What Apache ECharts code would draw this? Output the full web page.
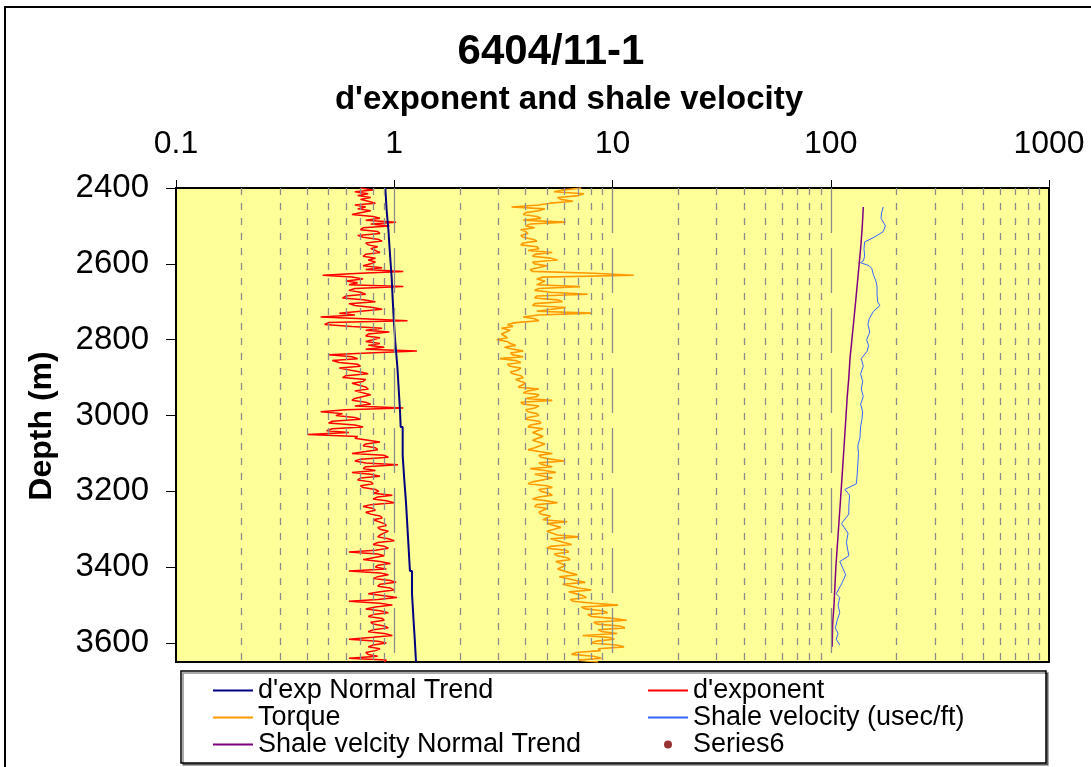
<!DOCTYPE html>
<html>
<head>
<meta charset="utf-8">
<script src="https://cdn.jsdelivr.net/npm/echarts@6/dist/echarts.min.js"></script>
<style>
  html, body { margin: 0; padding: 0; background: #fff; }
  #chart { width: 1091px; height: 767px; }
</style>
</head>
<body>
<div id="chart"></div>
<script>
// Depth samples (m) shared by the d'exponent and torque logs, every 5 m
const depths = [
  2400,2405,2410,2415,2420,2425,2430,2435,2440,2445,2450,2455,2460,2465,2470,2475,2480,2485,2490,2495,
  2500,2505,2510,2515,2520,2525,2530,2535,2540,2545,2550,2555,2560,2565,2570,2575,2580,2585,2590,2595,
  2600,2605,2610,2615,2620,2625,2630,2635,2640,2645,2650,2655,2660,2665,2670,2675,2680,2685,2690,2695,
  2700,2705,2710,2715,2720,2725,2730,2735,2740,2745,2750,2755,2760,2765,2770,2775,2780,2785,2790,2795,
  2800,2805,2810,2815,2820,2825,2830,2835,2840,2845,2850,2855,2860,2865,2870,2875,2880,2885,2890,2895,
  2900,2905,2910,2915,2920,2925,2930,2935,2940,2945,2950,2955,2960,2965,2970,2975,2980,2985,2990,2995,
  3000,3005,3010,3015,3020,3025,3030,3035,3040,3045,3050,3055,3060,3065,3070,3075,3080,3085,3090,3095,
  3100,3105,3110,3115,3120,3125,3130,3135,3140,3145,3150,3155,3160,3165,3170,3175,3180,3185,3190,3195,
  3200,3205,3210,3215,3220,3225,3230,3235,3240,3245,3250,3255,3260,3265,3270,3275,3280,3285,3290,3295,
  3300,3305,3310,3315,3320,3325,3330,3335,3340,3345,3350,3355,3360,3365,3370,3375,3380,3385,3390,3395,
  3400,3405,3410,3415,3420,3425,3430,3435,3440,3445,3450,3455,3460,3465,3470,3475,3480,3485,3490,3495,
  3500,3505,3510,3515,3520,3525,3530,3535,3540,3545,3550,3555,3560,3565,3570,3575,3580,3585,3590,3595,
  3600,3605,3610,3615,3620,3625,3630,3635,3640,3645,3650
];

// d'exponent
const dExponent = [
  0.70,0.80,0.66,0.76,0.68,0.78,0.70,0.76,0.82,0.66,0.74,0.68,0.78,0.70,0.64,0.80,0.86,0.74,1.02,0.78,
  0.95,0.72,0.70,0.84,0.86,0.68,0.72,0.84,0.88,0.74,0.76,0.84,0.78,0.82,0.86,0.74,0.72,0.82,0.76,0.82,
  0.78,0.72,0.88,0.74,1.10,0.70,0.47,0.64,0.72,0.60,0.68,0.62,1.10,0.66,0.62,0.70,0.74,0.60,0.58,0.72,
  0.82,0.62,0.66,0.80,0.88,0.70,0.56,0.66,0.46,0.72,1.15,0.50,0.48,0.64,0.88,0.74,0.95,0.76,0.74,0.86,
  0.80,0.74,0.86,0.76,0.90,0.74,1.27,0.76,0.50,0.64,0.68,0.52,0.56,0.68,0.70,0.56,0.55,0.70,0.76,0.60,
  0.58,0.74,0.72,0.64,0.63,0.74,0.76,0.66,0.66,0.78,0.78,0.66,0.64,0.74,0.78,0.66,1.10,0.60,0.46,0.58,
  0.54,0.66,0.70,0.52,0.50,0.66,0.72,0.52,0.49,0.62,0.40,0.68,0.66,0.76,0.86,0.74,0.72,0.82,0.84,0.74,
  0.64,0.90,0.94,0.70,0.66,0.74,1.04,0.74,0.72,0.82,0.64,0.78,0.86,0.70,0.68,0.78,0.80,0.70,0.72,0.82,
  0.85,0.80,0.98,0.84,0.80,0.92,1.00,0.78,0.72,0.80,0.82,0.74,0.78,0.86,0.88,0.80,0.80,0.90,0.92,0.84,
  0.86,0.94,0.96,0.86,0.84,0.94,1.00,0.84,0.80,0.90,0.94,0.82,0.62,0.84,0.90,0.80,0.72,0.86,0.96,0.84,
  0.82,0.92,0.62,0.86,0.94,0.84,0.80,0.96,1.02,0.86,0.84,0.96,1.00,0.86,0.76,0.90,1.03,0.84,0.62,0.86,
  0.98,0.82,0.74,0.86,0.94,0.80,0.76,0.88,0.90,0.78,0.80,0.90,0.94,0.80,0.76,0.90,0.98,0.80,0.62,0.84,
  0.92,0.80,0.76,0.86,0.82,0.74,0.76,0.84,0.62,0.92,0.90
];

// Torque
const torque = [
  7.2,6.0,5.4,7.4,7.0,5.6,5.8,6.6,5.2,4.6,3.45,4.9,4.6,4.0,3.9,4.5,4.7,3.9,6.1,4.2,
  4.0,4.4,3.8,4.0,4.1,3.8,3.9,4.3,4.5,3.9,3.8,4.5,4.6,4.1,5.3,4.4,4.3,5.2,5.6,4.3,
  4.4,5.0,5.1,4.2,4.3,8.2,12.5,4.8,4.5,4.9,5.0,4.5,7.1,4.6,4.4,5.2,7.7,4.5,4.4,5.6,
  5.9,4.4,4.3,6.1,6.2,4.5,8.0,4.6,3.9,4.4,4.6,3.6,3.3,3.5,3.1,3.4,3.35,3.1,3.05,3.3,
  2.95,3.3,3.4,3.6,3.2,3.5,3.9,3.4,3.5,3.9,3.05,3.6,3.8,3.3,3.4,3.8,3.7,3.4,3.5,3.8,
  3.9,3.6,3.6,4.0,4.0,3.7,4.6,4.1,3.9,4.6,4.5,4.0,5.3,3.8,3.9,4.6,4.4,4.0,4.1,4.5,
  4.6,4.1,4.0,4.6,4.7,4.2,4.1,4.8,4.9,4.3,4.3,4.8,4.8,4.3,4.3,4.9,4.9,4.4,4.1,4.6,
  5.3,4.6,4.7,5.2,6.0,4.6,4.8,5.3,4.2,4.9,5.5,4.4,4.4,5.3,5.2,4.3,4.1,5.0,5.3,4.6,
  4.7,5.1,5.3,4.6,4.3,5.0,5.6,4.5,4.4,5.0,5.0,4.6,4.7,5.2,5.2,4.8,6.2,5.0,4.9,5.8,
  5.4,5.0,5.0,5.6,7.0,5.2,5.1,6.0,6.5,5.2,5.0,6.1,6.3,5.4,5.6,6.2,6.4,5.5,5.5,6.1,
  6.2,5.6,5.7,6.4,6.9,5.7,5.8,6.8,7.5,5.9,5.9,7.0,8.0,6.3,6.2,7.3,7.6,6.4,6.6,8.2,
  10.6,7.2,7.5,9.0,9.5,7.7,8.0,10.0,11.6,8.2,8.5,10.8,11.4,8.6,9.0,10.5,7.3,9.6,10.2,8.4,
  8.0,10.4,11.3,8.6,8.8,6.8,6.5,8.2,8.9,7.0,8.6
];

// Shale velocity (usec/ft)
const shaleDepths = [
  2450,2465,2480,2500,2515,2530,2542,2560,2580,2592,2597,2605,2612,2630,2645,2660,2680,2700,2710,2725,
  2745,2760,2780,2800,2815,2830,2850,2870,2890,2910,2930,2950,2970,2990,3010,3030,3060,3080,3100,3130,
  3160,3180,3195,3210,3240,3260,3285,3310,3335,3370,3385,3400,3420,3440,3470,3480,3500,3520,3540,3560,
  3575,3590,3605
];
const shaleVelocity = [
  174,171,170,178,174,158,143,142,143,141,137,150,154,157,161,163,163,164,168,157,
  150,148,151,146,149,147,138,141,137,140,138,141,137,140,139,137,136,133,134,133,
  132,131,116,122,121,121,112,120,118,121,110,113,117,113,106,110,108,110,107,105,
  108,106,110
];

// d'exp normal trend
const dexpTrendDepths = [2400,2460,2510,2575,2635,2695,2755,2810,2870,2930,2985,3030,3105,3170,3230,3290,3350,3410,3470,3530,3585,3650];
const dexpTrend = [0.91,0.923,0.94,0.956,0.973,0.984,0.997,1.012,1.033,1.048,1.062,1.07,1.093,1.112,1.132,1.148,1.164,1.18,1.206,1.223,1.24,1.258];

// Shale velocity normal trend
const shaleTrendDepths = [2450,2500,2550,2600,2650,2700,2750,2800,2850,2900,2950,3000,3050,3100,3150,3200,3250,3300,3350,3400,3450,3500,3550,3610];
const shaleTrend = [141,139.5,137.5,135,132.5,130,127.5,125,122.5,121,119,117.5,116,114.5,113,111.5,110,108.5,107,105.5,104.5,103.5,102,101.5];

// Series6 has no points in this depth interval
const series6 = [];

// Axis ticks and grid positions
const xTickValues = [0.1, 1, 10, 100, 1000];
const yTickValues = [2400, 2600, 2800, 3000, 3200, 3400, 3600];
const gridMajor = [1, 10, 100];
const gridMinor = [
  0.2,0.3,0.4,0.5,0.6,0.7,0.8,0.9,
  2,3,4,5,6,7,8,9,
  20,30,40,50,60,70,80,90,
  200,300,400,500,600,700,800,900
];

const FONT = '"Liberation Sans", Arial, sans-serif';
const pairs = (ys, xs) => xs.map((v, i) => [v, ys[i]]);
const LINE_ICON = 'path://M0,0H40V2H0Z';

const chart = echarts.init(document.getElementById('chart'), null, { renderer: 'canvas' });

const legendText = { fontFamily: FONT, fontSize: 27, color: '#000', lineHeight: 26.5 };

chart.setOption({
  animation: false,
  backgroundColor: '#fff',
  title: [
    { text: '6404/11-1', left: 546, textAlign: 'center', top: 26,
      textStyle: { fontFamily: FONT, fontWeight: 'bold', fontSize: 42, color: '#000' } },
    { text: "d'exponent and shale velocity", left: 564, textAlign: 'center', top: 78,
      textStyle: { fontFamily: FONT, fontWeight: 'bold', fontSize: 33, color: '#000' } }
  ],
  graphic: [
    { type: 'rect', shape: { x: 5, y: 7, width: 1200, height: 900 },
      style: { fill: 'none', stroke: '#000', lineWidth: 2 }, z: -10, silent: true },
    { type: 'rect', shape: { x: 181, y: 671, width: 865, height: 92 },
      style: { fill: '#fff', stroke: '#000', lineWidth: 1.5,
               shadowColor: 'rgba(0,0,0,0.45)', shadowOffsetX: 2, shadowOffsetY: 2 }, z: -5, silent: true },
    { type: 'text', x: 42, y: 426, rotation: Math.PI / 2,
      style: { text: 'Depth (m)', fontFamily: FONT, fontWeight: 'bold', fontSize: 32, fill: '#000',
               align: 'center', verticalAlign: 'middle' } }
  ],
  legend: [
    { orient: 'vertical', left: 213, top: 677, padding: 0, itemGap: 0, itemWidth: 40, itemHeight: 8,
      textStyle: legendText,
      data: [
        { name: "d'exp Normal Trend", icon: LINE_ICON },
        { name: 'Torque', icon: LINE_ICON },
        { name: 'Shale velcity Normal Trend', icon: LINE_ICON }
      ] },
    { orient: 'vertical', left: 648, top: 677, padding: 0, itemGap: 0, itemWidth: 40, itemHeight: 8,
      textStyle: legendText,
      data: [
        { name: "d'exponent", icon: LINE_ICON },
        { name: 'Shale velocity (usec/ft)', icon: LINE_ICON },
        { name: 'Series6', icon: 'circle' }
      ] }
  ],
  grid: {
    left: 176, right: 42, top: 188, bottom: 105,
    show: true, backgroundColor: '#FFFF99', borderColor: '#000', borderWidth: 2
  },
  xAxis: {
    type: 'log', logBase: 10, min: 0.1, max: 1000, position: 'top',
    axisLine: { show: true, lineStyle: { color: '#000', width: 1.5 } },
    axisTick: { show: true, length: 8, lineStyle: { color: '#000' }, customValues: xTickValues },
    axisLabel: { fontFamily: FONT, fontSize: 32, color: '#000', margin: 28, customValues: xTickValues,
                 formatter: v => String(v) },
    splitLine: { show: false }, minorTick: { show: false }, minorSplitLine: { show: false }
  },
  yAxis: {
    type: 'value', inverse: true, min: 2400, max: 3650, interval: 200,
    axisLine: { show: true, lineStyle: { color: '#000', width: 1.5 } },
    axisTick: { show: true, length: 10, lineStyle: { color: '#000' }, customValues: yTickValues },
    axisLabel: { fontFamily: FONT, fontSize: 33, color: '#000', margin: 27, customValues: yTickValues,
                 formatter: v => String(v) },
    splitLine: { show: false }
  },
  series: [
    { name: 'gridlines', type: 'line', data: [], silent: true, z: 1,
      markLine: {
        silent: true, symbol: ['none', 'none'], label: { show: false }, animation: false,
        lineStyle: { color: '#8c8c8c', type: [7, 8], width: 1.3 },
        data: gridMinor.map(v => ({ xAxis: v }))
      } },
    { name: 'gridlinesMajor', type: 'line', data: [], silent: true, z: 1,
      markLine: {
        silent: true, symbol: ['none', 'none'], label: { show: false }, animation: false,
        lineStyle: { color: '#8c8c8c', type: [45, 15], width: 1.3 },
        data: gridMajor.map(v => ({ xAxis: v }))
      } },
    { name: "d'exponent", type: 'line', symbol: 'none', z: 3,
      lineStyle: { color: '#FF0000', width: 1.5 }, itemStyle: { color: '#FF0000' },
      data: pairs(depths, dExponent) },
    { name: 'Torque', type: 'line', symbol: 'none', z: 3,
      lineStyle: { color: '#FF9900', width: 1.6 }, itemStyle: { color: '#FF9900' },
      data: pairs(depths, torque) },
    { name: 'Shale velocity (usec/ft)', type: 'line', symbol: 'none', z: 3,
      lineStyle: { color: '#3366FF', width: 1 }, itemStyle: { color: '#3366FF' },
      data: pairs(shaleDepths, shaleVelocity) },
    { name: "d'exp Normal Trend", type: 'line', symbol: 'none', step: 'end', z: 4,
      lineStyle: { color: '#000080', width: 2 }, itemStyle: { color: '#000080' },
      data: pairs(dexpTrendDepths, dexpTrend) },
    { name: 'Shale velcity Normal Trend', type: 'line', symbol: 'none', step: 'end', z: 4,
      lineStyle: { color: '#800080', width: 1.5 }, itemStyle: { color: '#800080' },
      data: pairs(shaleTrendDepths, shaleTrend) },
    { name: 'Series6', type: 'scatter', symbol: 'circle', symbolSize: 8, z: 5,
      itemStyle: { color: '#800000' }, data: series6 }
  ]
});
</script>
</body>
</html>
